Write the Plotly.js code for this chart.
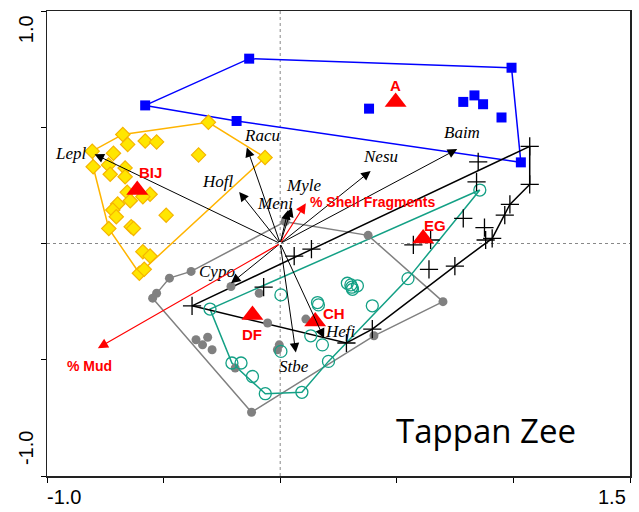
<!DOCTYPE html>
<html><head><meta charset="utf-8">
<script src="https://cdn.plot.ly/plotly-3.0.1.min.js"></script>
<style>html,body{margin:0;padding:0;background:#fff}#plot{width:639px;height:512px}</style>
</head><body><div id="plot"></div>
<script>
// ---- data (CCA axis 1 / axis 2 scores) ----
const blueX = [-0.579,-0.133,0.992,1.032,-0.187,0.381,0.785,0.833,0.870,0.949];
const blueY = [0.594,0.795,0.756,0.349,0.527,0.580,0.609,0.637,0.599,0.542];
const blueHull = [0,1,2,3,4,0];

const yelX = [-0.806,-0.675,-0.308,-0.065,-0.579,-0.530,-0.654,-0.715,-0.350,-0.802,-0.736,-0.665,-0.729,-0.665,-0.656,-0.558,-0.643,-0.589,-0.697,-0.718,-0.703,-0.489,-0.639,-0.629,-0.735,-0.589,-0.558,-0.604,-0.583];
const yelY = [0.397,0.469,0.521,0.370,0.441,0.437,0.426,0.388,0.381,0.330,0.338,0.325,0.298,0.287,0.220,0.212,0.184,0.201,0.170,0.144,0.115,0.122,0.072,0.065,0.064,-0.035,-0.054,-0.128,-0.111];
const yelHull = [0,1,2,3,27,24,9,0];

const grayX = [0.021,0.377,0.698,0.402,-0.123,-0.547,-0.530,-0.475,-0.382,-0.211,-0.090,-0.054,-0.361,-0.311,-0.333,-0.292,-0.193,-0.004,-0.012,0.110];
const grayY = [0.094,0.035,-0.250,-0.397,-0.726,-0.235,-0.214,-0.149,-0.120,-0.185,-0.214,-0.342,-0.414,-0.403,-0.436,-0.457,-0.536,-0.436,-0.457,-0.325];
const grayHull = [0,1,2,3,4,5,7,8,0];

const tealX = [0.856,-0.301,0.003,0.160,0.164,0.288,0.307,0.303,0.331,0.310,0.395,0.548,0.131,0.181,0.003,0.207,-0.207,-0.168,-0.119,-0.064,0.093];
const tealY = [0.230,-0.282,-0.221,-0.254,-0.264,-0.171,-0.188,-0.178,-0.182,-0.197,-0.268,-0.151,-0.397,-0.436,-0.464,-0.507,-0.514,-0.514,-0.572,-0.646,-0.640];
const tealHull = [0,1,16,19,20,15,11,0];

const crossX = [1.070,0.849,0.842,1.070,0.985,0.963,0.785,0.876,0.909,0.881,0.571,0.645,0.638,0.749,0.395,0.284,0.134,0.060,-0.071,-0.378];
const crossY = [0.418,0.351,0.265,0.254,0.168,0.122,0.108,0.068,0.022,0.015,-0.006,0.015,-0.111,-0.097,-0.368,-0.428,-0.024,-0.054,-0.188,-0.268];
const crossHull = [0,3,4,8,13,14,15,19,0];

const centroidNames = ['A','BIJ','DF','CH','EG'];
const centroidX = [0.495,-0.613,-0.119,0.150,0.613];
const centroidY = [0.609,0.230,-0.307,-0.336,0.022];

const speciesNames = ['Lepl','Racu','Hofl','Meni','Myle','Nesu','Baim','Cypo','Stbe','Hefi'];
const speciesX = [-0.796,-0.143,-0.176,0.034,0.050,0.388,0.759,-0.211,0.067,0.188];
const speciesY = [0.384,0.413,0.222,0.144,0.155,0.312,0.406,-0.171,-0.469,-0.407];

const envNames = ['% Mud','% Shell Fragments'];
const envX = [-0.782,0.110];
const envY = [-0.450,0.173];

const axisTickVals = [-1.0,-0.5,0,0.5,1.0,1.5];
const yTickVals = [-1.0,-0.5,0,0.5,1.0];

// ---- styling (label offsets in pixels) ----
const speciesShift = [[-24,1],[15,12],[-21,10],[-13,7],[12,22],[10,14],[5,17],[-14,12],[-2,-14],[16,7]];
const envShift = [[-8,-18],[2,1]];
const centroidShift = [[0,16],[13,18],[0,-20],[19,8],[12,13]];

const pick = (arr, idx) => idx.map(i => arr[i]);

const traces = [
  {x:pick(blueX,blueHull), y:pick(blueY,blueHull), mode:'lines', line:{color:'#0000ff',width:1.5}},
  {x:pick(yelX,yelHull), y:pick(yelY,yelHull), mode:'lines', line:{color:'#ffb400',width:1.5}},
  {x:pick(grayX,grayHull), y:pick(grayY,grayHull), mode:'lines', line:{color:'#808080',width:1.5}},
  {x:pick(tealX,tealHull), y:pick(tealY,tealHull), mode:'lines', line:{color:'#13a085',width:1.5}},
  {x:pick(crossX,crossHull), y:pick(crossY,crossHull), mode:'lines', line:{color:'#000000',width:1.5}},
  {x:blueX, y:blueY, mode:'markers', marker:{symbol:'square', size:10, color:'#0000ff'}},
  {x:yelX, y:yelY, mode:'markers', marker:{symbol:'diamond', size:11, color:'#ffe600', line:{color:'#f5b400',width:1.2}}},
  {x:grayX, y:grayY, mode:'markers', marker:{symbol:'circle', size:9, color:'#808080'}},
  {x:tealX, y:tealY, mode:'markers', marker:{symbol:'circle-open', size:12, color:'#13a085', line:{width:1.3}}},
  {x:crossX, y:crossY, mode:'markers', marker:{symbol:'cross-thin-open', size:13, color:'#000', line:{width:1.3,color:'#000'}}},
  {x:centroidX, y:centroidY, mode:'markers', marker:{symbol:'triangle-up', size:19, color:'#ff0000'}}
];

const ann = [];
speciesNames.forEach((n,i) => {
  ann.push({x:speciesX[i], y:speciesY[i], ax:0, ay:0, axref:'x', ayref:'y', xref:'x', yref:'y', text:'', showarrow:true, arrowhead:2, arrowsize:1.9, arrowwidth:1, arrowcolor:'#000'});
  ann.push({x:speciesX[i], y:speciesY[i], xshift:speciesShift[i][0], yshift:speciesShift[i][1], xanchor:'center', yanchor:'middle', text:'<i>'+n+'</i>', showarrow:false, font:{family:'Liberation Serif, Times New Roman, serif', size:17, color:'#000'}});
});
envNames.forEach((n,i) => {
  ann.push({x:envX[i], y:envY[i], ax:0, ay:0, axref:'x', ayref:'y', xref:'x', yref:'y', text:'', showarrow:true, arrowhead:2, arrowsize:1.7, arrowwidth:1.2, arrowcolor:'#ff0000'});
  ann.push({x:envX[i], y:envY[i], xshift:envShift[i][0], yshift:envShift[i][1], xanchor: i===1?'left':'center', yanchor:'middle', text:'<b>'+n+'</b>', showarrow:false, font:{family:'Liberation Sans, Arial, sans-serif', size:14, color:'#ff0000'}});
});
centroidNames.forEach((n,i) => {
  ann.push({x:centroidX[i], y:centroidY[i], xshift:centroidShift[i][0], yshift:centroidShift[i][1], xanchor:'center', yanchor:'middle', text:'<b>'+n+'</b>', showarrow:false, font:{family:'Liberation Sans, Arial, sans-serif', size:15, color:'#ff0000'}});
});
// end-of-axis labels
const axFont = {family:'Liberation Sans, Arial, sans-serif', size:20, color:'#000'};
const P = {xref:'paper', yref:'paper', showarrow:false, xanchor:'center', yanchor:'middle', font:axFont};
ann.push(Object.assign({}, P, {x:-0.036, y:0.961, text:'1.0', textangle:-90}));
ann.push(Object.assign({}, P, {x:-0.036, y:0.060, text:'-1.0', textangle:-90}));
ann.push(Object.assign({}, P, {x:0.029, y:-0.045, text:'-1.0'}));
ann.push(Object.assign({}, P, {x:0.969, y:-0.045, text:'1.5'}));
ann.push(Object.assign({}, P, {x:0.753, y:0.097, text:'Tappan Zee', font:{family:'Open Sans, sans-serif', size:33, color:'#000'}}));

const layout = {
  width:639, height:512,
  margin:{l:47, r:9, t:11, b:36},
  paper_bgcolor:'#fff', plot_bgcolor:'#fff',
  showlegend:false,
  xaxis:{range:[-1,1.5], tickvals:axisTickVals, ticktext:axisTickVals.map(()=>''), ticks:'outside', ticklen:5, tickcolor:'#000',
         showline:true, linecolor:'#222', linewidth:1.5, mirror:true, showgrid:false, zeroline:false},
  yaxis:{range:[-1,1], tickvals:yTickVals, ticktext:yTickVals.map(()=>''), ticks:'outside', ticklen:5, tickcolor:'#000',
         showline:true, linecolor:'#222', linewidth:1.5, mirror:true, showgrid:false, zeroline:false},
  shapes:[
    {type:'line', xref:'x', yref:'paper', x0:0, x1:0, y0:0, y1:1, line:{color:'#888', width:1, dash:'dot'}, layer:'below'},
    {type:'line', xref:'paper', yref:'y', x0:0, x1:1, y0:0, y1:0, line:{color:'#888', width:1, dash:'dot'}, layer:'below'}
  ],
  annotations:ann
};
Plotly.newPlot('plot', traces, layout, {displayModeBar:false, staticPlot:true});
</script></body></html>
